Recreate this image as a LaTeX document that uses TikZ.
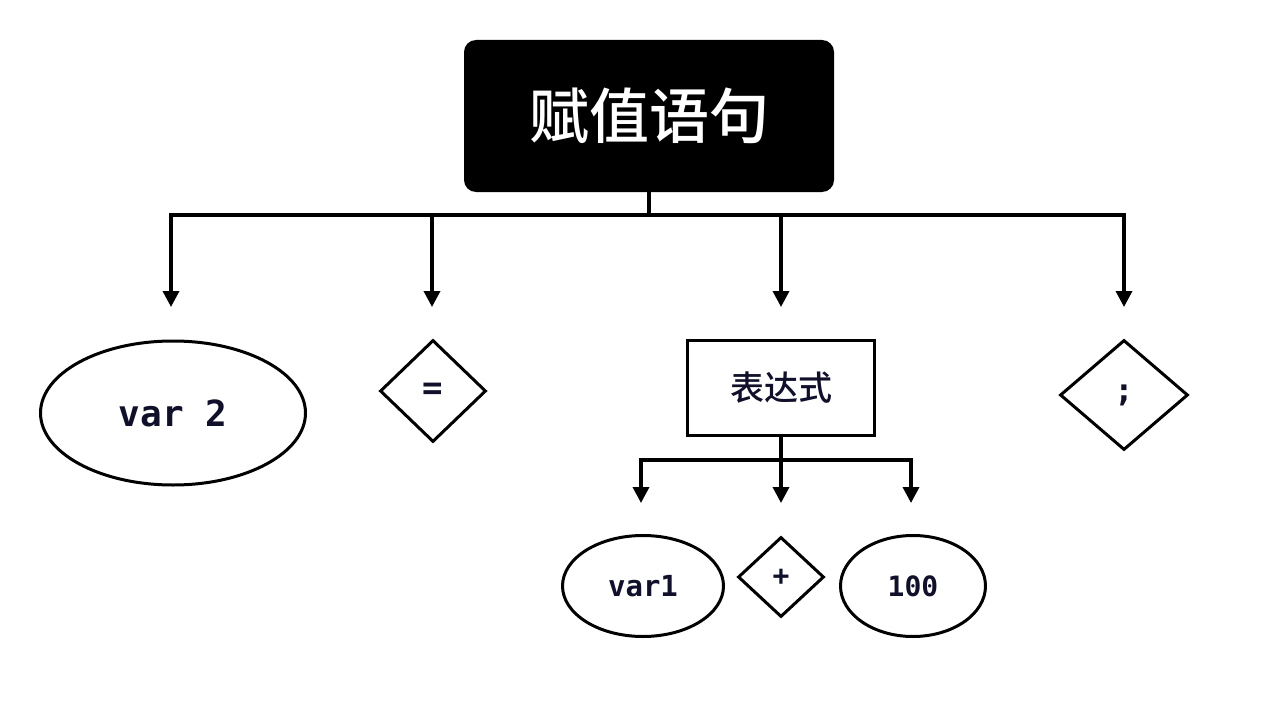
\documentclass[tikz,border=0pt]{standalone}
\usepackage{fontspec}
\usetikzlibrary{shapes.geometric,arrows.meta}
\newfontfamily\cjk{Noto Sans CJK SC}[UprightFont=* Medium,BoldFont=* Bold]
\newfontfamily\mono{DejaVu Sans Mono}
\definecolor{ink}{HTML}{10102A}
\tikzset{
  conn/.style={line width=3.5pt,draw=black},
  arr/.style={conn,-{Triangle[width=16pt,length=16pt]}},
  shp/.style={draw=black,line width=3pt,inner sep=0pt,text=ink},
  oval/.style={shp,ellipse},
  dia/.style={shp,diamond},
  monot/.style={font=\mono\bfseries\fontsize{#1}{#1}\selectfont},
}
\begin{document}
\begin{tikzpicture}[x=1pt,y=-1pt]
\useasboundingbox (0,0) rectangle (1272,706);
% title
\node[fill=black,rounded corners=12pt,minimum width=370pt,minimum height=152pt,inner sep=0pt,
      text=white,font=\cjk\fontsize{60}{60}\selectfont] (title) at (649,116) {赋值语句};
% level 1 nodes
\node[oval,minimum width=265pt,minimum height=144pt,monot=36] (var2) at (173,413) {var 2};
\node[dia,minimum width=106pt,minimum height=102pt,monot=34] (eq) at (433,391) {=};
\node[shp,rectangle,minimum width=187pt,minimum height=95pt,font=\cjk\fontsize{34}{34}\selectfont] (expr) at (781,388) {表达式};
\node[dia,minimum width=128pt,minimum height=110pt,monot=32] (semi) at (1124,395) {;};
% level 2 nodes
\node[oval,minimum width=161pt,minimum height=101pt,monot=29] (var1) at (643,586) {var1};
\node[dia,minimum width=86pt,minimum height=80pt,monot=28] (plus) at (781,577) {+};
\node[oval,minimum width=145pt,minimum height=101pt,monot=28] (hund) at (913,586) {100};
% connectors level 1
\coordinate (b) at (649,215);
\coordinate (a1) at (171,307);
\coordinate (a2) at (432,307);
\coordinate (a3) at (781,307);
\coordinate (a4) at (1124,307);
\draw[conn] (title.south) -- (b);
\draw[arr] (b) -| (a1);
\draw[arr] (b) -| (a2);
\draw[arr] (b) -| (a3);
\draw[arr] (b) -| (a4);
% connectors level 2
\coordinate (c) at (781,460);
\coordinate (d1) at (641,503);
\coordinate (d2) at (781,503);
\coordinate (d3) at (911,503);
\draw[conn] (expr.south) -- (c);
\draw[arr] (c) -| (d1);
\draw[arr] (c) -- (d2);
\draw[arr] (c) -| (d3);
\end{tikzpicture}
\end{document}
